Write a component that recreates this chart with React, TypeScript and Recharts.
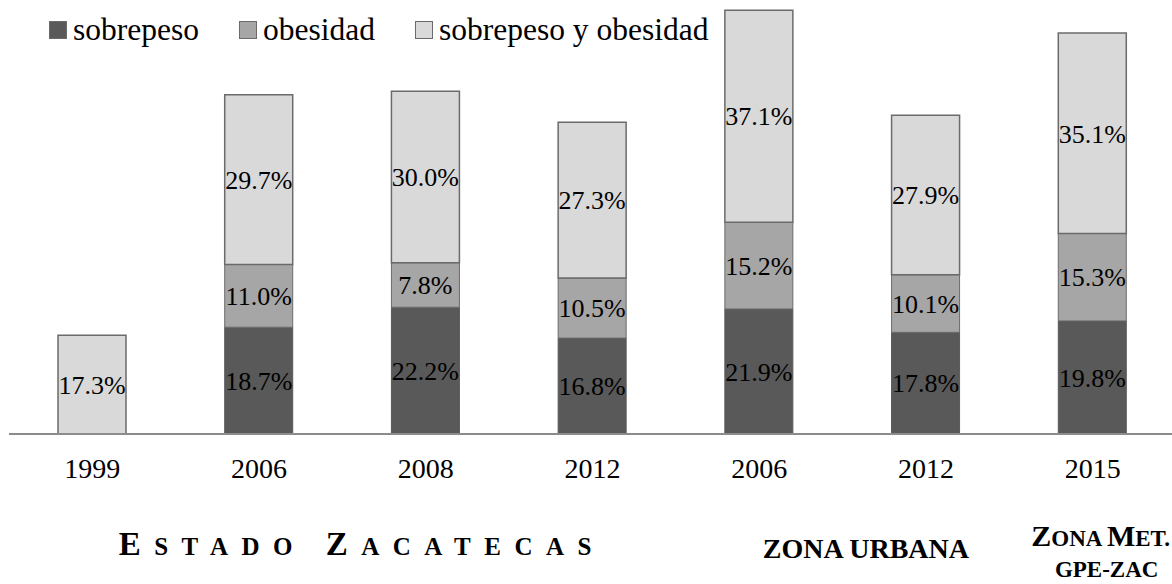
import { Bar, BarChart, LabelList, Legend, XAxis, YAxis } from 'recharts'

const categories = ['1999', '2006', '2008', '2012', '2006', '2012', '2015']
const sobrepeso = [null, 18.7, 22.2, 16.8, 21.9, 17.8, 19.8]
const obesidad = [null, 11.0, 7.8, 10.5, 15.2, 10.1, 15.3]
const sobrepesoYObesidad = [17.3, 29.7, 30.0, 27.3, 37.1, 27.9, 35.1]

const seriesNames = ['sobrepeso', 'obesidad', 'sobrepeso y obesidad']
const seriesColors = ['#595959', '#a6a6a6', '#d9d9d9']

const data = categories.map((year, i) => ({
  year,
  sobrepeso: sobrepeso[i],
  obesidad: obesidad[i],
  sobrepesoYObesidad: sobrepesoYObesidad[i],
}))

const FONT = '"Liberation Serif", "Times New Roman", serif'
const STROKE = '#6b6b6b'

const pct = (v: unknown) => (v == null || v === 0 ? '' : `${Number(v).toFixed(1)}%`)

function LegendContent() {
  return (
    <div style={{ display: 'flex', alignItems: 'center', fontFamily: FONT, fontSize: 31.5, color: '#000', whiteSpace: 'nowrap' }}>
      {seriesNames.map((name, i) => (
        <div key={name} style={{ display: 'flex', alignItems: 'center', marginRight: 40 }}>
          <span
            style={{
              display: 'inline-block',
              width: 16,
              height: 16,
              background: seriesColors[i],
              border: `1px solid ${STROKE}`,
              marginRight: 6,
            }}
          />
          <span>{name}</span>
        </div>
      ))}
    </div>
  )
}

function CategoryTick(props: any) {
  const { x, y, payload, index } = props
  return (
    <g fontFamily={FONT} fill="#000">
      <text x={x} y={y + 44} textAnchor="middle" fontSize={28}>
        {payload.value}
      </text>
      {index === 2 && (
        <text x={x - 64} y={y + 121} textAnchor="middle" fontWeight="bold" letterSpacing={13.5}>
          <tspan fontSize={33}>E</tspan>
          <tspan fontSize={25}>STADO </tspan>
          <tspan fontSize={33}>Z</tspan>
          <tspan fontSize={25}>ACATECAS</tspan>
        </text>
      )}
      {index === 5 && (
        <text x={x - 60} y={y + 124} textAnchor="middle" fontWeight="bold" fontSize={28}>
          ZONA URBANA
        </text>
      )}
      {index === 6 && (
        <g fontWeight="bold">
          <text x={x + 8} y={y + 112} textAnchor="middle">
            <tspan fontSize={30}>Z</tspan>
            <tspan fontSize={23}>ONA </tspan>
            <tspan fontSize={30}>M</tspan>
            <tspan fontSize={23}>ET.</tspan>
          </text>
          <text x={x + 14} y={y + 143} textAnchor="middle" fontSize={23}>
            GPE-ZAC
          </text>
        </g>
      )}
    </g>
  )
}

export default function App() {
  return (
    <div style={{ position: 'absolute', left: 0, top: 0, width: 1172, height: 584, overflow: 'hidden', background: '#fff', fontFamily: FONT }}>
      <BarChart
        width={1180}
        height={584}
        data={data}
        margin={{ top: 0, right: 4, bottom: 0, left: 9 }}
        barSize={68}
      >
        <XAxis
          dataKey="year"
          height={150}
          interval={0}
          tickLine={false}
          tickSize={0}
          tickMargin={0}
          axisLine={{ stroke: '#8c8c8c', strokeWidth: 2 }}
          tick={<CategoryTick />}
        />
        <YAxis hide domain={[0, 76]} />
        <Legend
          verticalAlign="middle"
          align="center"
          layout="horizontal"
          content={<LegendContent />}
          wrapperStyle={{ top: 12, left: 49, width: 'auto' }}
        />
        <Bar dataKey="sobrepeso" name={seriesNames[0]} stackId="a" fill={seriesColors[0]} stroke={seriesColors[0]} isAnimationActive={false}>
          <LabelList dataKey="sobrepeso" position="center" formatter={pct} fill="#000" fontSize={26} fontFamily={FONT} />
        </Bar>
        <Bar dataKey="obesidad" name={seriesNames[1]} stackId="a" fill={seriesColors[1]} stroke={STROKE} isAnimationActive={false}>
          <LabelList dataKey="obesidad" position="center" formatter={pct} fill="#000" fontSize={26} fontFamily={FONT} />
        </Bar>
        <Bar dataKey="sobrepesoYObesidad" name={seriesNames[2]} stackId="a" fill={seriesColors[2]} stroke={STROKE} strokeWidth={1.5} isAnimationActive={false}>
          <LabelList dataKey="sobrepesoYObesidad" position="center" formatter={pct} fill="#000" fontSize={26} fontFamily={FONT} />
        </Bar>
      </BarChart>
    </div>
  )
}
